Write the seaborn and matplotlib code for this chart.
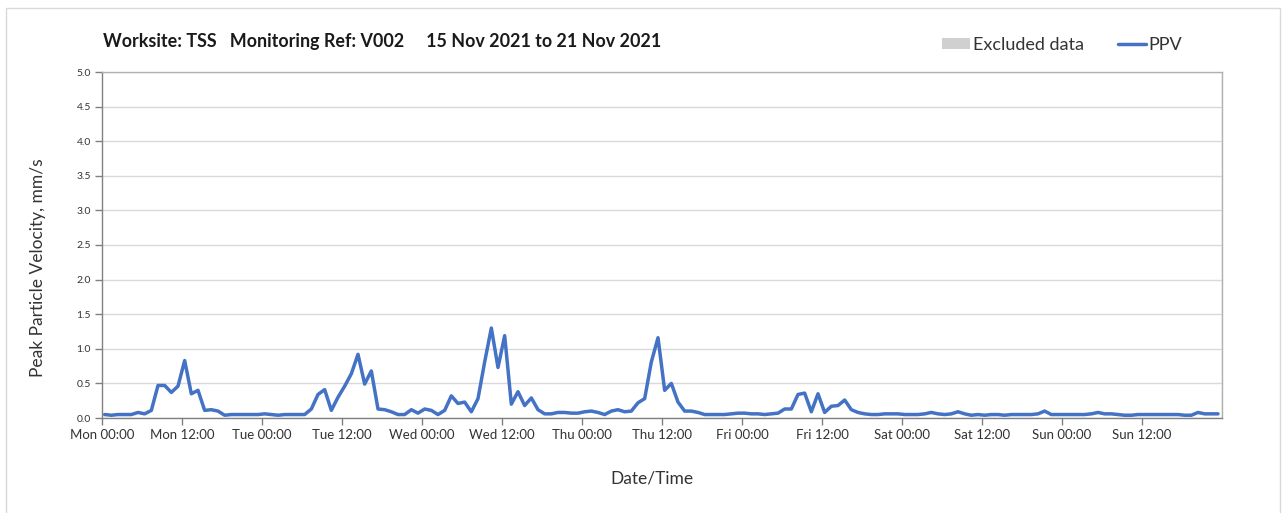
import numpy as np
import pandas as pd
import matplotlib.pyplot as plt
import matplotlib.dates as mdates
import seaborn as sns
from matplotlib.patches import Patch, Rectangle
from matplotlib.lines import Line2D

# hourly PPV readings (mm/s), one list per day
ppv_mon = [0.05, 0.04, 0.05, 0.05, 0.05, 0.08, 0.06, 0.11, 0.47, 0.47, 0.37, 0.46,
           0.83, 0.35, 0.40, 0.11, 0.12, 0.10, 0.04, 0.05, 0.05, 0.05, 0.05, 0.05]
ppv_tue = [0.06, 0.05, 0.04, 0.05, 0.05, 0.05, 0.05, 0.13, 0.34, 0.41, 0.11, 0.30,
           0.46, 0.64, 0.92, 0.49, 0.68, 0.13, 0.12, 0.09, 0.05, 0.05, 0.12, 0.07]
ppv_wed = [0.13, 0.11, 0.05, 0.11, 0.32, 0.21, 0.23, 0.09, 0.28, 0.81, 1.30, 0.73,
           1.19, 0.20, 0.38, 0.18, 0.29, 0.12, 0.06, 0.06, 0.08, 0.08, 0.07, 0.07]
ppv_thu = [0.09, 0.10, 0.08, 0.05, 0.10, 0.12, 0.09, 0.10, 0.22, 0.28, 0.81, 1.16,
           0.40, 0.50, 0.23, 0.10, 0.10, 0.08, 0.05, 0.05, 0.05, 0.05, 0.06, 0.07]
ppv_fri = [0.07, 0.06, 0.06, 0.05, 0.06, 0.07, 0.13, 0.13, 0.34, 0.36, 0.09, 0.35,
           0.08, 0.17, 0.18, 0.26, 0.12, 0.08, 0.06, 0.05, 0.05, 0.06, 0.06, 0.06]
ppv_sat = [0.05, 0.05, 0.05, 0.06, 0.08, 0.06, 0.05, 0.06, 0.09, 0.06, 0.04, 0.05,
           0.04, 0.05, 0.05, 0.04, 0.05, 0.05, 0.05, 0.05, 0.06, 0.10, 0.05, 0.05]
ppv_sun = [0.05, 0.05, 0.05, 0.05, 0.06, 0.08, 0.06, 0.06, 0.05, 0.04, 0.04, 0.05,
           0.05, 0.05, 0.05, 0.05, 0.05, 0.05, 0.04, 0.04, 0.08, 0.06, 0.06, 0.06]

tick_labels = ["Mon 00:00", "Mon 12:00", "Tue 00:00", "Tue 12:00", "Wed 00:00",
               "Wed 12:00", "Thu 00:00", "Thu 12:00", "Fri 00:00", "Fri 12:00",
               "Sat 00:00", "Sat 12:00", "Sun 00:00", "Sun 12:00"]

title = "Worksite: TSS   Monitoring Ref: V002     15 Nov 2021 to 21 Nov 2021"

ppv = ppv_mon + ppv_tue + ppv_wed + ppv_thu + ppv_fri + ppv_sat + ppv_sun
times = pd.date_range("2021-11-15 00:24", periods=len(ppv), freq="h")
df = pd.DataFrame({"time": times, "ppv": ppv})

sns.set_theme(style="white")
plt.rcParams["font.family"] = ["Lato", "DejaVu Sans"]

W, H = 1288, 513
fig = plt.figure(figsize=(W / 100, H / 100), dpi=100)
ax = fig.add_axes([102 / W, 1 - 418 / H, 1120 / W, 346 / H])

sns.lineplot(data=df, x="time", y="ppv", color="#4472c4", linewidth=2.5, ax=ax)

start = pd.Timestamp("2021-11-15")
ax.set_xlim(start, start + pd.Timedelta(days=7))
ax.set_ylim(0, 5)
ax.set_yticks(np.arange(0, 5.01, 0.5))
ax.set_yticklabels([f"{v:.1f}" for v in np.arange(0, 5.01, 0.5)])

ticks = pd.date_range(start, periods=len(tick_labels), freq="12h")
ax.set_xticks(ticks)
ax.set_xticklabels(tick_labels)
ax.xaxis.set_minor_locator(mdates.DayLocator())

ax.grid(axis="y", which="major", color="#d9d9d9", linewidth=1)
ax.grid(axis="x", which="minor", color="#d9d9d9", linewidth=1)
ax.grid(axis="x", which="major", visible=False)
ax.set_axisbelow(True)

ax.tick_params(axis="x", which="major", direction="out", length=5, width=1,
               color="#808080", labelsize=9.5, labelcolor="#333333", pad=3, bottom=True)
ax.tick_params(axis="x", which="minor", length=0)
ax.tick_params(axis="y", direction="out", length=5, width=1, color="#808080",
               labelsize=7.5, labelcolor="#333333", pad=3, left=True)

for side in ["top", "right"]:
    ax.spines[side].set_color("#b0b0b0")
    ax.spines[side].set_linewidth(1)
for side in ["left", "bottom"]:
    ax.spines[side].set_color("#808080")
    ax.spines[side].set_linewidth(1)

ax.set_xlabel("")
ax.set_ylabel("")
fig.text(652 / W, 1 - 479 / H, "Date/Time", ha="center", va="center",
         fontsize=12.5, color="#333333")
fig.text(38 / W, 1 - 268 / H, "Peak Particle Velocity, mm/s", ha="center",
         va="center", rotation=90, fontsize=12.5, color="#333333")
fig.text(103 / W, 1 - 42 / H, title, ha="left", va="center", fontsize=12.9,
         fontweight="bold", color="#1a1a1a")

handles = [Patch(facecolor="#d0d0d0", edgecolor="none"),
           Line2D([0], [0], color="#4472c4", linewidth=2.5)]
fig.legend(handles, ["Excluded data", "PPV"], loc="center left",
           bbox_to_anchor=(933 / W, 1 - 45 / H), ncol=2, frameon=False,
           borderpad=0, handlelength=1.55, handleheight=0.6, handletextpad=0.15,
           columnspacing=1.9, fontsize=13, labelcolor="#333333")

fig.patches.append(Rectangle((6 / W, -0.1), 1274 / W, 1.1 - 8 / H,
                             transform=fig.transFigure, fill=False,
                             edgecolor="#d9d9d9", linewidth=1))

fig.savefig("out.png", dpi=100)
